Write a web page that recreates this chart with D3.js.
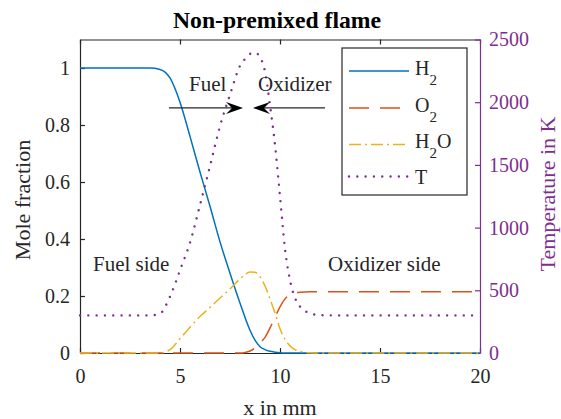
<!DOCTYPE html>
<html>
<head>
<meta charset="utf-8">
<script src="https://cdnjs.cloudflare.com/ajax/libs/d3/7.8.5/d3.min.js"></script>
<style>
body{margin:0;background:#fff;}
text{font-family:"Liberation Serif","Times New Roman",serif;}
</style>
</head>
<body>
<div id="plot"></div>
<script>
// x positions (mm) shared by every series
var xGrid = [0, 1, 2, 3, 3.5, 4, 4.5, 5, 5.5, 6, 6.5, 7, 7.5, 8, 8.25, 8.5, 8.75, 9, 9.25, 9.5, 9.75, 10, 10.25, 10.5, 10.75, 11, 11.5, 12, 13, 14, 15, 16, 17, 18, 19, 20];

// mole fractions
var h2  = [1, 1, 1, 1, 1, 0.995, 0.965, 0.88, 0.76, 0.635, 0.515, 0.39, 0.28, 0.175, 0.125, 0.08, 0.045, 0.022, 0.012, 0.006, 0.003, 0.001, 0, 0, 0, 0, 0, 0, 0, 0, 0, 0, 0, 0, 0, 0];
var o2  = [0, 0, 0, 0, 0, 0, 0, 0, 0, 0, 0, 0, 0, 0, 0.002, 0.007, 0.018, 0.035, 0.055, 0.088, 0.125, 0.162, 0.19, 0.205, 0.211, 0.213, 0.215, 0.215, 0.215, 0.215, 0.215, 0.215, 0.215, 0.215, 0.215, 0.215];
var h2o = [0, 0, 0, 0, 0, 0, 0.012, 0.05, 0.09, 0.128, 0.16, 0.193, 0.225, 0.26, 0.275, 0.284, 0.283, 0.268, 0.235, 0.19, 0.14, 0.085, 0.048, 0.025, 0.012, 0.006, 0.001, 0, 0, 0, 0, 0, 0, 0, 0, 0];
// temperature in K
var temp = [300, 300, 300, 300, 300, 315, 450, 660, 880, 1180, 1490, 1810, 2060, 2290, 2345, 2385, 2395, 2360, 2245, 1975, 1660, 1250, 830, 580, 440, 370, 317, 302, 300, 300, 300, 300, 300, 300, 300, 300];

var xTicks = [0, 5, 10, 15, 20];
var yTicks = [0, 0.2, 0.4, 0.6, 0.8, 1];
var tTicks = [0, 500, 1000, 1500, 2000, 2500];

var colH2 = '#0072BD', colO2 = '#D95319', colH2O = '#EDB120', colT = '#7E2F8E', ink = '#262626';

var W = 561, H = 419;
var margin = {t:39.5, r:81, b:66, l:80};
var width = W - margin.l - margin.r,
    height = H - margin.t - margin.b;

var svg = d3.select('#plot')
    .append('svg')
    .attr('width', W)
    .attr('height', H);

var plot = svg.append('g')
    .attr('transform', 'translate(' + margin.l + ',' + margin.t + ')');

var x = d3.scaleLinear().domain([0, 20]).range([0, width]);
var y = d3.scaleLinear().domain([0, 1.1]).range([height, 0]);
var yT = d3.scaleLinear().domain([0, 2500]).range([height, 0]);

function fmt(d){ return String(d); }

function styleAxis(g, color, size){
    g.select('.domain').attr('stroke', color).attr('stroke-width', 1.2);
    g.selectAll('.tick line').attr('stroke', color).attr('stroke-width', 1.2);
    g.selectAll('.tick text').attr('fill', color).attr('font-size', size)
        .style('font-family', '"Liberation Serif","Times New Roman",serif');
}

// top border with ticks
var gTop = plot.append('g')
    .call(d3.axisTop(x).tickValues(xTicks).tickSizeInner(-5).tickSizeOuter(0).tickFormat(''));
styleAxis(gTop, ink, 20);

var gBottom = plot.append('g')
    .attr('transform', 'translate(0,' + height + ')')
    .call(d3.axisBottom(x).tickValues(xTicks).tickSizeInner(-5).tickSizeOuter(0).tickPadding(16).tickFormat(fmt));
styleAxis(gBottom, ink, 20);

var gLeft = plot.append('g')
    .call(d3.axisLeft(y).tickValues(yTicks).tickSizeInner(-5).tickSizeOuter(0).tickPadding(10).tickFormat(fmt));
styleAxis(gLeft, ink, 20);

var gRight = plot.append('g')
    .attr('transform', 'translate(' + width + ',0)')
    .call(d3.axisRight(yT).tickValues(tTicks).tickSizeInner(-5).tickSizeOuter(0).tickPadding(9).tickFormat(fmt));
styleAxis(gRight, colT, 20);

// curves
function lineFor(scale){
    return d3.line()
        .x(function(d, i){ return x(xGrid[i]); })
        .y(function(d){ return scale(d); })
        .curve(d3.curveMonotoneX);
}

plot.append('path').datum(h2)
    .attr('d', lineFor(y))
    .attr('fill', 'none').attr('stroke', colH2).attr('stroke-width', 1.5);

plot.append('path').datum(o2)
    .attr('d', lineFor(y))
    .attr('fill', 'none').attr('stroke', colO2).attr('stroke-width', 1.5)
    .attr('stroke-dasharray', '20,11');

plot.append('path').datum(h2o)
    .attr('d', lineFor(y))
    .attr('fill', 'none').attr('stroke', colH2O).attr('stroke-width', 1.5)
    .attr('stroke-dasharray', '12,4,2,4');

plot.append('path').datum(temp)
    .attr('d', lineFor(yT))
    .attr('fill', 'none').attr('stroke', colT).attr('stroke-width', 2.4)
    .attr('stroke-linecap', 'round')
    .attr('stroke-dasharray', '0.01,8.3');

// annotations
plot.append('text').attr('x', x(5.45)).attr('y', y(0.918))
    .attr('font-size', 21).attr('fill', ink).text('Fuel');
plot.append('text').attr('x', x(8.9)).attr('y', y(0.918))
    .attr('font-size', 21).attr('fill', ink).text('Oxidizer');
plot.append('text').attr('x', x(0.65)).attr('y', y(0.286))
    .attr('font-size', 21).attr('fill', ink).text('Fuel side');
plot.append('text').attr('x', x(12.4)).attr('y', y(0.286))
    .attr('font-size', 21).attr('fill', ink).text('Oxidizer side');

function arrow(x0, x1, yv){
    var px0 = x(x0), px1 = x(x1), py = y(yv);
    var dir = px1 > px0 ? 1 : -1;
    var L = 17, w = 6, notch = 6;
    plot.append('line')
        .attr('x1', px0).attr('y1', py)
        .attr('x2', px1 - dir * (L - notch)).attr('y2', py)
        .attr('stroke', ink).attr('stroke-width', 1.4);
    var pts = [[px1, py], [px1 - dir * L, py - w], [px1 - dir * (L - notch), py], [px1 - dir * L, py + w]];
    plot.append('path')
        .attr('d', 'M' + pts.join('L') + 'Z')
        .attr('fill', '#000');
}
arrow(4.45, 8.15, 0.86);
arrow(12.25, 8.65, 0.86);

// legend
var legend = svg.append('g');
legend.append('rect')
    .attr('x', 342).attr('y', 48).attr('width', 125).attr('height', 147)
    .attr('fill', '#fff').attr('stroke', ink).attr('stroke-width', 1.2);

var entries = [
    {main:'H', sub:'2', after:'', color:colH2, dash:null, w:1.5, y:71},
    {main:'O', sub:'2', after:'', color:colO2, dash:'20,11', w:1.5, y:108},
    {main:'H', sub:'2', after:'O', color:colH2O, dash:'12,4,2,4', w:1.5, y:144.5},
    {main:'T', sub:'', after:'', color:colT, dash:'0.01,8.3', w:2.4, y:176.5}
];
entries.forEach(function(e){
    var ln = legend.append('line')
        .attr('x1', 349).attr('x2', 409).attr('y1', e.y).attr('y2', e.y)
        .attr('stroke', e.color).attr('stroke-width', e.w);
    if (e.dash) ln.attr('stroke-dasharray', e.dash);
    if (e.w > 2) ln.attr('stroke-linecap', 'round');
    var t = legend.append('text')
        .attr('x', 415).attr('y', e.sub ? e.y + 3.5 : e.y + 7.5)
        .attr('font-size', 20).attr('fill', ink);
    t.append('tspan').text(e.main);
    if (e.sub) t.append('tspan').attr('dy', 10).attr('font-size', 15).text(e.sub);
    if (e.after) t.append('tspan').attr('dy', -10).attr('font-size', 20).text(e.after);
});

// titles and axis labels
svg.append('text')
    .attr('x', 277).attr('y', 28)
    .attr('text-anchor', 'middle').attr('font-size', 23.7).attr('font-weight', 'bold')
    .attr('fill', '#000').text('Non-premixed flame');

svg.append('text')
    .attr('x', margin.l + width / 2).attr('y', 415)
    .attr('text-anchor', 'middle').attr('font-size', 22).attr('fill', ink)
    .text('x in mm');

svg.append('text')
    .attr('transform', 'translate(30,200) rotate(-90)')
    .attr('text-anchor', 'middle').attr('font-size', 22).attr('fill', ink)
    .text('Mole fraction');

svg.append('text')
    .attr('transform', 'translate(555,194) rotate(-90)')
    .attr('text-anchor', 'middle').attr('font-size', 22).attr('fill', colT)
    .text('Temperature in K');
</script>
</body>
</html>
